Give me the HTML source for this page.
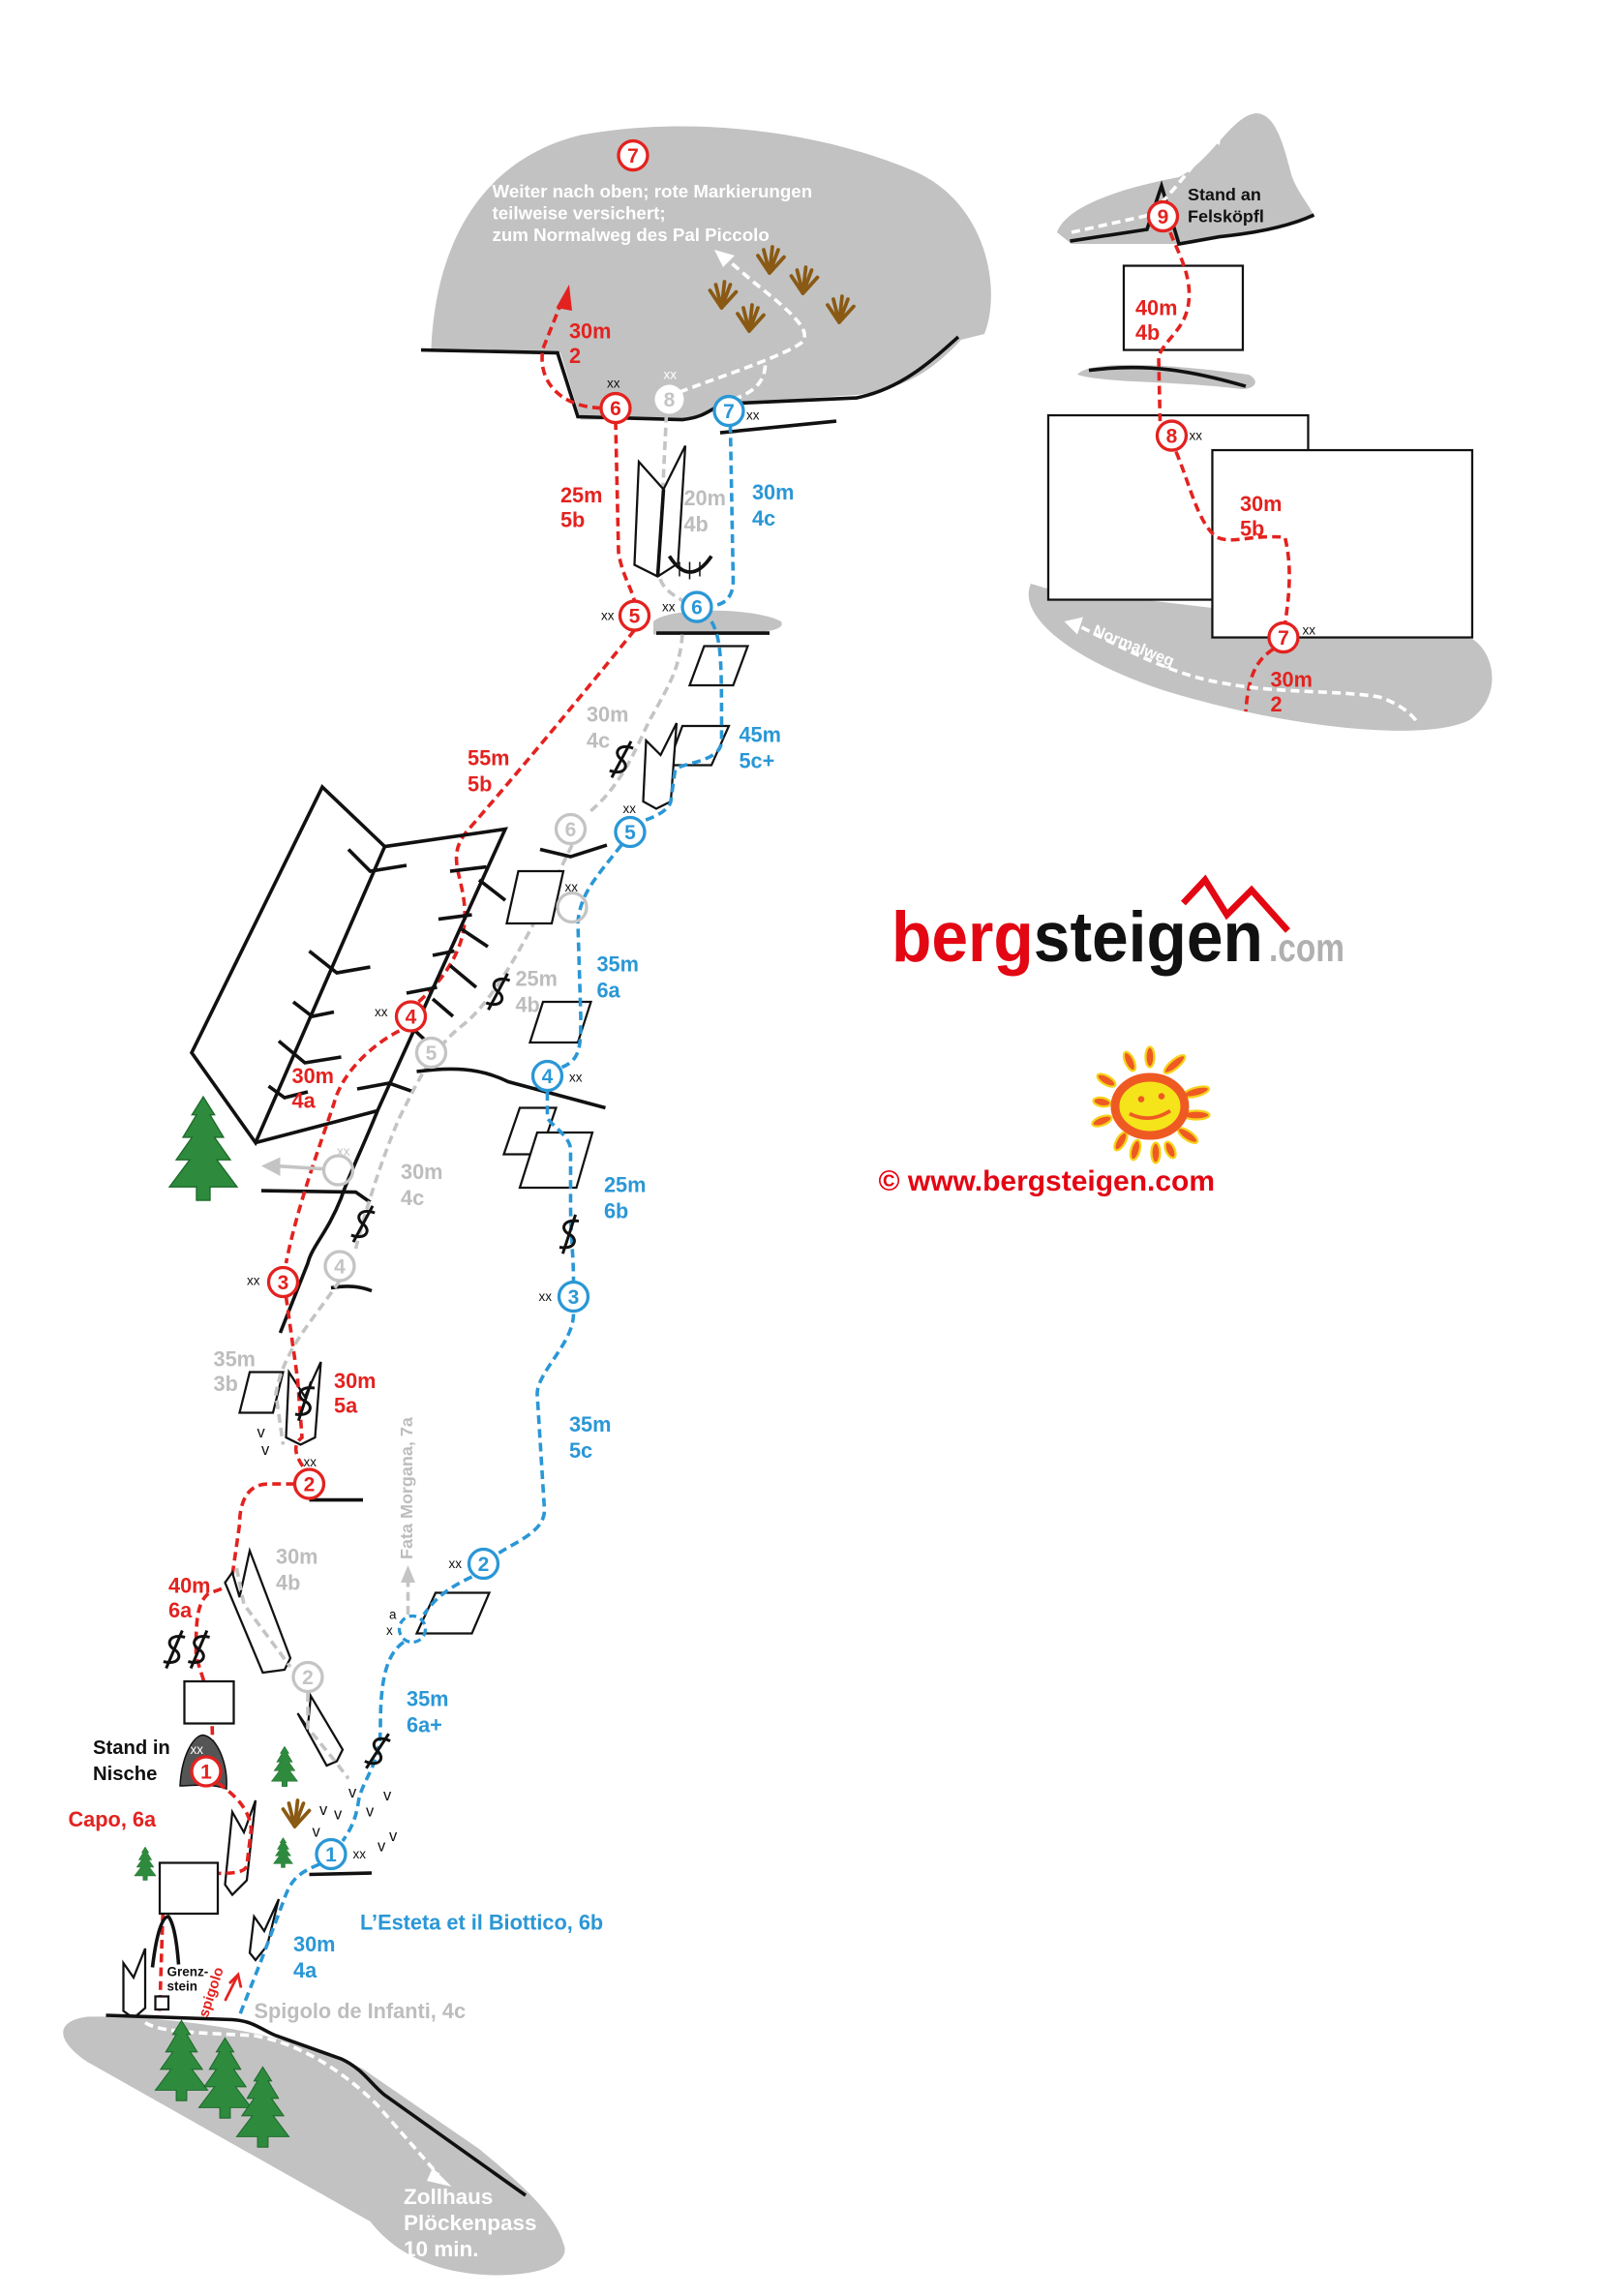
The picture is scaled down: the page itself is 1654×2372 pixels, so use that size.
<!DOCTYPE html>
<html><head><meta charset="utf-8"><style>
html,body{margin:0;padding:0;background:#fff;}
svg{display:block;}
text{font-family:"Liberation Sans",sans-serif;font-weight:bold;}
.r{fill:#e3221f;font-size:14.5px}
.b{fill:#2a97d6;font-size:14.5px}
.g{fill:#bdbdbd;font-size:14.5px}
.k{fill:#111;font-size:13.5px}
.w{fill:#fff;font-size:12.5px}
.xx{fill:#111;font-size:9px;font-weight:normal}
.dr{fill:none;stroke:#e3221f;stroke-width:2.4;stroke-dasharray:6 3.5}
.db{fill:none;stroke:#2a97d6;stroke-width:2.4;stroke-dasharray:6 3.5}
.dg{fill:none;stroke:#c4c4c4;stroke-width:2.4;stroke-dasharray:6 3.5}
.dw{fill:none;stroke:#fff;stroke-width:2.4;stroke-dasharray:6 3.5}
.ln{fill:none;stroke:#111;stroke-width:2.4}
.sh{fill:#fff;stroke:#111;stroke-width:1.5}
.cr{fill:#fff;stroke:#e3221f;stroke-width:2.2}
.cb{fill:#fff;stroke:#2a97d6;stroke-width:2.2}
.cg{fill:#fff;stroke:#c4c4c4;stroke-width:2.2}
.nr{fill:#e3221f;font-size:14px;text-anchor:middle}
.nb{fill:#2a97d6;font-size:14px;text-anchor:middle}
.ng{fill:#c4c4c4;font-size:14px;text-anchor:middle}
.tree{fill:#2e8b3e;stroke:#1d6b2a;stroke-width:.6}
.pl{fill:none;stroke:#8a5a14;stroke-width:2.5;stroke-linecap:round}
</style></head><body>
<svg width="1654" height="2372" viewBox="0 0 1102.7 1581.3" xmlns="http://www.w3.org/2000/svg">
<defs>
<g id="tr"><path class="tree" d="M0,-32 L5,-24 L3,-24 L9,-14 L5,-14 L12,-4 L6,-4 L15,8 L3,8 L3,14 L-3,14 L-3,8 L-15,8 L-6,-4 L-12,-4 L-5,-14 L-9,-14 L-3,-24 L-5,-24 Z"/></g>
<g id="pl"><path class="pl" d="M0,8 L-8,-4 M0,8 L-4,-8 M0,8 L2,-10 M0,8 L6,-8 M0,8 L10,-3"/></g>
<g id="ss"><path d="M5,-10 C-6,-10 -7,-2 0,0 C7,2 6,10 -5,10 M2,-14 L-2,14" fill="none" stroke="#111" stroke-width="2"/></g>
</defs>

<!-- top gray block -->
<path d="M297,240 C300,170 330,110 400,93 C470,80 560,88 630,118 C680,140 690,200 678,230 L662,234 C640,258 620,268 590,272 L500,278 C492,282 486,287 470,289 L400,289 L386,243 Z" fill="#c2c2c2"/>
<path class="ln" d="M290,241 L384,243 L398,287 L470,289 C488,287 490,280 500,278 L590,274 C620,268 640,250 660,232"/>
<path class="ln" d="M496,298 L576,290"/>
<circle class="cr" cx="436" cy="107" r="10"/><text class="nr" x="436" y="112">7</text>
<text class="w" x="339" y="136">Weiter nach oben; rote Markierungen</text>
<text class="w" x="339" y="151">teilweise versichert;</text>
<text class="w" x="339" y="166">zum Normalweg des Pal Piccolo</text>
<path class="dr" d="M414,281 C385,280 370,262 374,240 L388,205"/>
<path d="M383,212 L392,196 L394,214 Z" fill="#e3221f"/>
<text class="r" x="392" y="233">30m</text><text class="r" x="392" y="250">2</text>
<path class="dw" d="M468,270 C500,258 540,245 552,236 C560,228 545,215 520,195 L500,178"/>
<path d="M492,172 L506,176 L498,184 Z" fill="#fff"/>
<path class="dw" d="M505,275 C520,270 528,262 527,248"/>
<use href="#pl" x="497" y="204"/><use href="#pl" x="530" y="180"/><use href="#pl" x="553" y="194"/><use href="#pl" x="516" y="220"/><use href="#pl" x="578" y="214"/>
<text class="xx" x="418" y="267">xx</text><text class="xx" x="457" y="261" style="fill:#fff">xx</text><text class="xx" x="514" y="289">xx</text>

<!-- pitch 5->6 area -->
<path d="M450,428 C460,418 520,418 538,428 C542,436 520,437 450,437 Z" fill="#c2c2c2"/>
<path class="ln" d="M452,436 L530,436" stroke-width="2"/>
<path class="dr" d="M424,290 L426,380 C428,395 435,405 437,414"/>
<path class="dg" d="M459,285 L454,390 C452,405 465,410 472,415"/>
<path class="db" d="M503,292 L505,400 C505,412 498,417 490,417"/>
<path class="sh" d="M440,318 L457,337 L472,307 L467,388 L453,397 L437,389 Z"/><path class="ln" d="M457,337 L453,397" stroke-width="1.5"/>
<path d="M461,383 Q475,405 490,383" fill="none" stroke="#111" stroke-width="2.5"/><path d="M468,387 L468,397 M475,387 L475,399 M482,387 L482,397" stroke="#111" stroke-width="1"/>
<text class="r" x="386" y="346">25m</text><text class="r" x="386" y="363">5b</text>
<text class="g" x="471" y="348">20m</text><text class="g" x="471" y="366">4b</text>
<text class="b" x="518" y="344">30m</text><text class="b" x="518" y="362">4c</text>
<circle class="cr" cx="424" cy="281" r="10"/><text class="nr" x="424" y="286">6</text>
<circle cx="461" cy="275" r="10" fill="#fff"/><text class="ng" x="461" y="280">8</text>
<circle class="cb" cx="502" cy="283" r="10"/><text class="nb" x="502" y="288">7</text>
<circle class="cr" cx="437" cy="424" r="10"/><text class="nr" x="437" y="429">5</text><text class="xx" x="414" y="427">xx</text>
<circle class="cb" cx="480" cy="418" r="10"/><text class="nb" x="480" y="423">6</text><text class="xx" x="456" y="421">xx</text>

<!-- middle section -->
<path class="sh" d="M485,445 L515,445 L505,472 L475,472 Z"/>
<path class="sh" d="M470,500 L502,500 L490,527 L460,527 Z"/>
<path class="sh" d="M445,510 L455,520 L466,498 L462,552 L452,557 L443,552 Z"/>
<path class="dr" d="M437,434 C400,480 350,540 322,572 C305,592 322,605 320,635 C318,660 300,680 286,692"/>
<path class="dg" d="M470,437 C468,460 462,470 448,495 C440,510 430,540 405,560"/>
<path class="db" d="M490,428 C497,440 497,455 497,510 C497,525 470,525 465,530 L462,552 C460,560 445,565 440,566"/>
<use href="#ss" x="428" y="523" transform="rotate(20 428 523)"/>
<text class="r" x="322" y="527">55m</text><text class="r" x="322" y="545">5b</text>
<text class="g" x="404" y="497">30m</text><text class="g" x="404" y="515">4c</text>
<text class="b" x="509" y="511">45m</text><text class="b" x="509" y="529">5c+</text>

<!-- big roof block -->
<path class="ln" d="M222,542 L265,583 L176,787 L132,725 Z" fill="#fff" stroke-width="2.5"/>
<path class="ln" d="M265,583 L348,571 L260,765 L176,787" stroke-width="2.5"/>
<path class="ln" d="M260,765 C250,790 240,810 235,825 C225,850 215,858 212,870 L193,918" stroke-width="2.5"/>
<path class="ln" stroke-width="1.6" d="M240,585 L255,600 L280,596 M213,655 L232,670 L255,666 M202,690 L215,700 L230,697 M192,717 L210,732 L235,728 M185,748 L196,756 L212,752 M335,597 L310,600 M330,606 L348,620 M325,630 L302,633 M318,640 L336,652 M313,655 L298,658 M310,665 L328,680 M301,680 L280,684 M298,688 L312,700 M290,700 L275,705 M286,710 L300,723 M246,750 L268,746 L285,752 M180,820 L245,821 L255,828"/>
<path class="dg" d="M394,582 C380,610 350,680 320,705 C300,720 290,740 275,770 C262,800 250,840 245,860"/>
<path class="dr" d="M275,710 C255,720 235,740 230,760 C220,790 205,830 197,870"/>
<use href="#tr" x="140" y="805" transform="translate(140 805) scale(1.55) translate(-140 -805)"/>
<circle cx="233" cy="806" r="10" fill="none" stroke="#c4c4c4" stroke-width="2.2"/>
<path d="M222,805 L190,803" stroke="#c4c4c4" stroke-width="2.4"/><path d="M180,803 L193,797 L193,810 Z" fill="#c4c4c4"/>
<text class="xx" x="232" y="796" style="fill:#c4c4c4">xx</text>
<path class="sh" d="M357,600 L388,600 L380,636 L349,636 Z"/>
<path class="ln" d="M372,585 L393,590 L418,582" stroke-width="2"/>
<path class="sh" d="M374,690 L407,690 L398,718 L365,718 Z"/>
<path class="ln" d="M287,738 C310,735 330,735 350,745 L417,763" stroke-width="2"/>
<path class="sh" d="M358,763 L383,763 L372,795 L347,795 Z"/>
<path class="sh" d="M370,780 L408,780 L397,818 L358,818 Z"/>
<path class="db" d="M428,582 C410,605 400,615 398,635 L400,700 C400,720 400,730 387,735"/>
<path class="db" d="M377,752 L377,770 C380,775 393,783 393,792 L393,830 C393,850 395,865 395,882"/>
<path class="db" d="M395,905 C395,925 370,945 370,960 L375,1040 C375,1055 355,1062 343,1070"/>
<use href="#ss" x="343" y="683" transform="rotate(20 343 683)"/>
<use href="#ss" x="392" y="850" transform="rotate(10 392 850) scale(1)"/>
<use href="#ss" x="250" y="843" transform="rotate(20 250 843)"/>
<circle cx="394" cy="625" r="10" fill="none" stroke="#c4c4c4" stroke-width="2.2"/><text class="xx" x="389" y="614">xx</text>
<circle class="cg" cx="393" cy="571" r="10"/><text class="ng" x="393" y="576">6</text>
<circle class="cb" cx="434" cy="573" r="10"/><text class="nb" x="434" y="578">5</text><text class="xx" x="429" y="560">xx</text>
<circle class="cr" cx="283" cy="700" r="10"/><text class="nr" x="283" y="705">4</text><text class="xx" x="258" y="700">xx</text>
<circle class="cg" cx="297" cy="725" r="10"/><text class="ng" x="297" y="730">5</text>
<circle class="cb" cx="377" cy="741" r="10"/><text class="nb" x="377" y="746">4</text><text class="xx" x="392" y="745">xx</text>
<text class="g" x="355" y="679">25m</text><text class="g" x="355" y="697">4b</text>
<text class="b" x="411" y="669">35m</text><text class="b" x="411" y="687">6a</text>
<text class="r" x="201" y="746">30m</text><text class="r" x="201" y="763">4a</text>
<text class="g" x="276" y="812">30m</text><text class="g" x="276" y="830">4c</text>
<text class="b" x="416" y="821">25m</text><text class="b" x="416" y="839">6b</text>
<text class="b" x="392" y="986">35m</text><text class="b" x="392" y="1004">5c</text>
<path class="ln" d="M228,887 C240,885 248,886 256,889" stroke-width="2"/>
<circle class="cg" cx="234" cy="872" r="10"/><text class="ng" x="234" y="877">4</text>
<circle class="cr" cx="195" cy="883" r="10"/><text class="nr" x="195" y="888">3</text><text class="xx" x="170" y="885">xx</text>
<circle class="cb" cx="395" cy="893" r="10"/><text class="nb" x="395" y="898">3</text><text class="xx" x="371" y="896">xx</text>

<!-- lower left -->
<path class="sh" d="M172,945 L195,945 L188,973 L165,973 Z"/>
<path class="sh" d="M199,945 L210,962 L221,938 L217,990 L207,995 L197,990 Z"/>
<path class="dr" d="M197,893 L205,950 L208,990 C200,996 205,1005 210,1012"/>
<path class="dg" d="M234,882 C215,910 195,930 190,960 L195,995"/>
<use href="#ss" x="210" y="965" transform="rotate(10 210 965)"/>
<text class="g" x="147" y="941">35m</text><text class="g" x="147" y="958">3b</text>
<text class="r" x="230" y="956">30m</text><text class="r" x="230" y="973">5a</text>
<path class="ln" d="M213,1033 L250,1033" stroke-width="2"/>
<circle class="cr" cx="213" cy="1022" r="10"/><text class="nr" x="213" y="1027">2</text><text class="xx" x="209" y="1010">xx</text>
<path class="dr" d="M203,1022 L185,1022 C170,1022 165,1035 165,1050 L160,1085 C158,1095 148,1095 143,1098 C135,1105 135,1120 135,1140 C140,1160 148,1170 146,1210"/>
<path class="sh" d="M160,1083 L165,1100 L172,1068 L200,1142 L196,1150 L181,1152 L155,1090 Z"/>
<path class="dg" d="M163,1080 L168,1105 L200,1148"/>
<text class="r" x="116" y="1097">40m</text><text class="r" x="116" y="1114">6a</text>
<text class="g" x="190" y="1077">30m</text><text class="g" x="190" y="1095">4b</text>
<use href="#ss" x="120" y="1136" transform="rotate(15 120 1136)"/><use href="#ss" x="137" y="1136" transform="rotate(15 137 1136)"/>
<rect class="sh" x="127" y="1158" width="34" height="29"/>
<circle class="cg" cx="212" cy="1155" r="10"/><text class="ng" x="212" y="1160">2</text>
<path class="sh" d="M205,1180 L212,1190 L214,1168 L236,1205 L232,1213 L225,1216 Z"/>
<path class="dg" d="M212,1166 L212,1190 L230,1212 L240,1225"/>
<path d="M124,1230 C125,1210 133,1195 140,1195 C150,1197 157,1215 156,1232 C145,1228 130,1230 124,1230 Z" fill="#555" stroke="#111" stroke-width="1"/>
<text class="xx" x="131" y="1208" style="fill:#fff">xx</text>
<circle class="cr" cx="142" cy="1220" r="10"/><text class="nr" x="142" y="1225">1</text>
<text class="k" x="64" y="1208">Stand in</text><text class="k" x="64" y="1226">Nische</text>
<text class="r" x="47" y="1258">Capo, 6a</text>
<path class="sh" d="M160,1248 L168,1262 L176,1240 L170,1295 L160,1305 L155,1298 Z"/>
<path class="dr" d="M150,1228 C160,1235 172,1245 173,1260 L170,1285 C168,1292 150,1290 130,1290 C118,1292 113,1305 112,1322 L110,1385"/>
<rect class="sh" x="110" y="1283" width="40" height="35"/>
<path class="sh" d="M175,1320 L182,1330 L192,1308 L184,1340 L176,1350 L172,1345 Z"/>
<path class="ln" d="M105,1355 C108,1330 112,1320 116,1320 C120,1325 122,1340 123,1353" stroke-width="1.5"/>
<path class="sh" d="M85,1352 L92,1362 L100,1342 L100,1383 L92,1390 L85,1385 Z"/>
<rect class="sh" x="107" y="1375" width="9" height="9"/>
<text class="xx" x="115" y="1361" style="font-weight:bold">Grenz-</text><text class="xx" x="115" y="1371" style="font-weight:bold">stein</text>
<text class="r" style="font-size:10px" x="143" y="1390" transform="rotate(-72 143 1390)">spigolo</text>
<path d="M155,1378 L163,1362" stroke="#e3221f" stroke-width="1.8"/><path d="M158,1366 L164,1360 L166,1369" fill="none" stroke="#e3221f" stroke-width="1.8"/>
<use href="#tr" x="100" y="1288" transform="translate(100 1288) scale(.5) translate(-100 -1288)"/>
<use href="#tr" x="196" y="1222" transform="translate(196 1222) scale(.6) translate(-196 -1222)"/>
<use href="#tr" x="195" y="1280" transform="translate(195 1280) scale(.45) translate(-195 -1280)"/>
<use href="#pl" x="203" y="1250"/>
<text class="xx" x="220" y="1250" style="font-size:11px">v</text><text class="xx" x="230" y="1253" style="font-size:11px">v</text><text class="xx" x="240" y="1238" style="font-size:11px">v</text><text class="xx" x="252" y="1251" style="font-size:11px">v</text><text class="xx" x="264" y="1240" style="font-size:11px">v</text><text class="xx" x="260" y="1275" style="font-size:11px">v</text><text class="xx" x="268" y="1268" style="font-size:11px">v</text><text class="xx" x="215" y="1265" style="font-size:11px">v</text><text class="xx" x="177" y="990" style="font-size:11px">v</text><text class="xx" x="180" y="1002" style="font-size:11px">v</text>

<!-- blue lower -->
<path class="sh" d="M300,1097 L337,1097 L325,1125 L287,1125 Z"/>
<path class="db" d="M325,1086 C310,1093 300,1100 292,1112"/>
<circle cx="284" cy="1122" r="9" fill="none" stroke="#2a97d6" stroke-width="2.2" stroke-dasharray="5 3"/>
<path class="db" d="M278,1131 C265,1140 262,1160 262,1190 C262,1215 250,1225 247,1240 C245,1255 240,1262 236,1268"/>
<path class="dg" d="M281,1112 L281,1090" stroke-dasharray="3 3"/><path d="M276,1090 L281,1078 L286,1090 Z" fill="#c4c4c4"/>
<text class="g" style="font-size:12px" x="284" y="1074" transform="rotate(-90 284 1074)">Fata Morgana, 7a</text>
<text class="xx" x="266" y="1126">x</text><text class="xx" x="268" y="1115">a</text>
<use href="#ss" x="260" y="1206" transform="rotate(25 260 1206)"/>
<circle class="cb" cx="333" cy="1077" r="10"/><text class="nb" x="333" y="1082">2</text><text class="xx" x="309" y="1080">xx</text>
<text class="b" x="280" y="1175">35m</text><text class="b" x="280" y="1193">6a+</text>
<path class="ln" d="M213,1291 L256,1290" stroke-width="2"/>
<circle class="cb" cx="228" cy="1277" r="10"/><text class="nb" x="228" y="1282">1</text><text class="xx" x="243" y="1280">xx</text>
<path class="db" d="M220,1284 C205,1290 200,1295 195,1310 L180,1350 L165,1388"/>
<text class="b" x="202" y="1344">30m</text><text class="b" x="202" y="1362">4a</text>
<text class="b" x="248" y="1329">L’Esteta et il Biottico, 6b</text>
<text class="g" x="175" y="1390">Spigolo de Infanti, 4c</text>

<!-- bottom ground -->
<path d="M60,1389 C38,1392 38,1405 60,1420 L255,1530 C272,1552 300,1566 340,1567 C380,1567 393,1556 388,1545 C382,1525 360,1505 330,1480 L250,1425 C200,1400 120,1388 60,1389 Z" fill="#c2c2c2"/>
<path class="ln" d="M73,1388 L160,1391 C175,1392 180,1398 190,1402 L235,1418 C250,1425 255,1435 265,1443 L362,1512"/>
<path class="dw" d="M100,1393 C110,1400 140,1400 175,1402 C210,1408 240,1430 260,1450 L302,1498"/>
<path d="M298,1493 L311,1506 L294,1502 Z" fill="#fff"/>
<use href="#tr" x="125" y="1430" transform="translate(125 1430) scale(1.2) translate(-125 -1430)"/>
<use href="#tr" x="155" y="1442" transform="translate(155 1442) scale(1.2) translate(-155 -1442)"/>
<use href="#tr" x="181" y="1462" transform="translate(181 1462) scale(1.2) translate(-181 -1462)"/>
<text class="w" style="font-size:15px" x="278" y="1518">Zollhaus</text>
<text class="w" style="font-size:15px" x="278" y="1536">Plöckenpass</text>
<text class="w" style="font-size:15px" x="278" y="1554">10 min.</text>

<!-- right panel -->
<path d="M728,160 C735,140 780,128 812,122 C835,110 848,80 865,78 C880,78 885,105 890,122 C895,135 905,145 905,150 L820,168 L738,168 Z" fill="#c2c2c2"/>
<path class="ln" d="M737,166 L790,158 L800,128 L812,168 L840,163 C870,160 890,155 905,148"/>
<path class="dw" d="M738,160 L792,148 C810,130 825,110 836,95"/>
<path d="M831,94 L842,85 L840,100 Z" fill="#fff"/>
<text class="k" x="818" y="138" style="font-size:12px">Stand an</text><text class="k" x="818" y="153" style="font-size:12px">Felsköpfl</text>
<path d="M710,402 C700,425 740,455 800,475 C880,500 980,512 1012,496 C1035,480 1030,450 1014,440 L720,405 Z" fill="#c2c2c2"/>
<path d="M742,258 C750,248 800,250 860,258 C868,262 865,268 855,268 C810,262 760,264 742,258 Z" fill="#c2c2c2"/>
<path class="ln" d="M750,255 C790,250 820,255 858,266" stroke-width="2"/>
<rect class="sh" x="774" y="183" width="82" height="58" stroke-width="2"/>
<rect class="sh" x="722" y="286" width="179" height="127" stroke-width="2"/>
<rect class="sh" x="835" y="310" width="179" height="129" stroke-width="2"/>
<path class="dr" d="M806,160 C812,175 818,185 819,200 C820,225 805,230 798,245 L799,290"/>
<path class="dr" d="M810,311 C820,335 825,360 838,370 C850,375 860,368 885,370 C890,390 888,410 885,430"/>
<path class="dr" d="M877,447 C865,455 860,465 858,490"/>
<path class="dw" d="M745,432 C780,450 810,465 840,470 C880,478 920,475 950,480 C965,485 972,492 976,497"/>
<path d="M733,428 L746,425 L742,437 Z" fill="#fff"/>
<text class="w" style="font-size:11px" x="752" y="437" transform="rotate(22 752 437)">Normalweg</text>
<circle class="cr" cx="801" cy="149" r="10"/><text class="nr" x="801" y="154">9</text>
<circle class="cr" cx="807" cy="300" r="10"/><text class="nr" x="807" y="305">8</text><text class="xx" x="819" y="303">xx</text>
<circle class="cr" cx="884" cy="439" r="10"/><text class="nr" x="884" y="444">7</text><text class="xx" x="897" y="437">xx</text>
<text class="r" x="782" y="217">40m</text><text class="r" x="782" y="234">4b</text>
<text class="r" x="854" y="352">30m</text><text class="r" x="854" y="369">5b</text>
<text class="r" x="875" y="473">30m</text><text class="r" x="875" y="490">2</text>

<!-- logo -->
<text x="614" y="662" style="font-size:49px;font-weight:bold" textLength="256" lengthAdjust="spacingAndGlyphs"><tspan fill="#e30613">berg</tspan><tspan fill="#111">steigen</tspan></text>
<text x="874" y="662" style="font-size:27px;fill:#b0b0b0" textLength="52" lengthAdjust="spacingAndGlyphs">.com</text>
<path d="M815,622 L830,606 L845,630 L862,613 L887,641" fill="none" stroke="#e30613" stroke-width="4.5" stroke-linejoin="miter"/>
<g transform="translate(792,762)">
<g fill="#ef5a23" stroke="#f5d31a" stroke-width="1.5">
<ellipse cx="0" cy="-34" rx="3" ry="7"/><ellipse cx="-14" cy="-31" rx="3" ry="7" transform="rotate(-25 -14 -31)"/><ellipse cx="17" cy="-29" rx="3" ry="9" transform="rotate(50 17 -29)"/>
<ellipse cx="-30" cy="-18" rx="3" ry="7" transform="rotate(-60 -30 -18)"/><ellipse cx="32" cy="-10" rx="3" ry="9" transform="rotate(75 32 -10)"/>
<ellipse cx="-33" cy="-3" rx="3" ry="6" transform="rotate(-80 -33 -3)"/><ellipse cx="32" cy="6" rx="3" ry="9" transform="rotate(90 32 6)"/>
<ellipse cx="-33" cy="10" rx="3" ry="7" transform="rotate(-110 -33 10)"/><ellipse cx="26" cy="20" rx="3" ry="8" transform="rotate(125 26 20)"/>
<ellipse cx="-20" cy="24" rx="3" ry="7" transform="rotate(-150 -20 24)"/><ellipse cx="-10" cy="30" rx="3" ry="7" transform="rotate(-165 -10 30)"/><ellipse cx="4" cy="32" rx="3" ry="7"/><ellipse cx="14" cy="30" rx="3" ry="6" transform="rotate(155 14 30)"/>
</g>
<ellipse cx="0" cy="0" rx="24" ry="20" fill="#f5e41a" stroke="#ef5a23" stroke-width="6"/>
<circle cx="-6" cy="-5" r="2.2" fill="#ef5a23"/><circle cx="8" cy="-7" r="2.2" fill="#ef5a23"/>
<path d="M-14,5 Q0,12 14,3" fill="none" stroke="#ef5a23" stroke-width="2.5"/>
</g>
<text x="605" y="820" style="font-size:20px;fill:#e30613">©  www.bergsteigen.com</text>
</svg>
</body></html>
